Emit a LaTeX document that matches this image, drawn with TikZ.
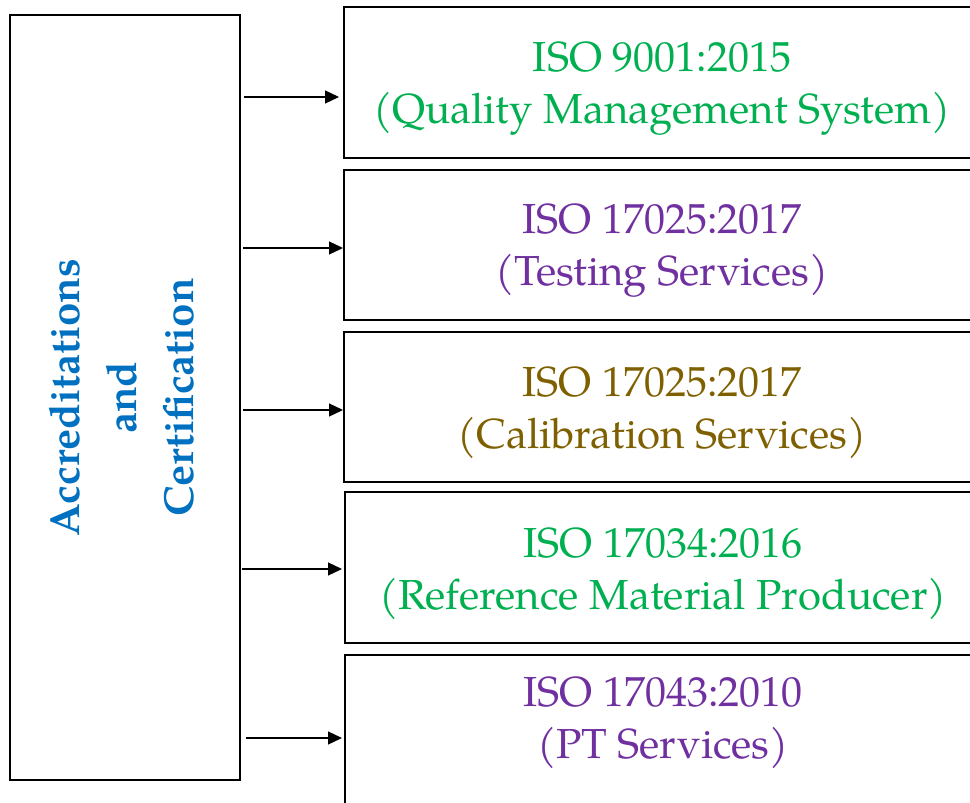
\documentclass[tikz,border=0pt]{standalone}
\usepackage{fontspec}
\setmainfont{texgyrepagella}[Extension=.otf, UprightFont=*-regular, BoldFont=*-bold, ItalicFont=*-italic, BoldItalicFont=*-bolditalic]
\usetikzlibrary{arrows.meta}
\definecolor{cgreen}{HTML}{00B050}
\definecolor{cpurple}{HTML}{7030A0}
\definecolor{cbrown}{HTML}{7F6000}
\definecolor{cblue}{HTML}{0070C0}
\begin{document}
\begin{tikzpicture}[x=1pt,y=-1pt,
  box/.style={draw=black, line width=2pt, minimum width=636pt, inner sep=0pt},
  txt/.style={align=center, inner sep=0pt, font=\fontsize{42}{52}\selectfont},
  arr/.style={line width=1.3pt, -{Triangle[length=14pt,width=13pt]}}]
\useasboundingbox (0,0) rectangle (970,803);
\begin{scope}
\clip (0,0) rectangle (970,803);
\node[draw=black, line width=2pt, minimum width=230pt, minimum height=765pt, inner sep=0pt] (L) at (125,397.5) {};
\node[rotate=90, text=cblue, align=center, font=\fontsize{42}{57}\bfseries\selectfont] (Lt) at ([xshift=-3pt]L.center) {Accreditations\\and\\Certification};
\node[box, minimum height=151pt] (B1) at (662,82.5) {};
\node[box, minimum height=150pt] (B2) at (662,245) {};
\node[box, minimum height=150pt] (B3) at (662,407) {};
\node[box, minimum height=151pt] (B4) at (663,567.5) {};
\node[box, minimum height=165pt] (B5) at (663,737.5) {};
\node[txt, text=cgreen] (T1) at ([yshift=-6pt]B1.center) {ISO 9001:2015\\(Quality Management System)};
\node[txt, text=cpurple] (T2) at ([yshift=-6pt]B2.center) {ISO 17025:2017\\(Testing Services)};
\node[txt, text=cbrown] (T3) at ([yshift=-6pt]B3.center) {ISO 17025:2017\\(Calibration Services)};
\node[txt, text=cgreen] (T4) at ([yshift=-6pt]B4.center) {ISO 17034:2016\\(Reference Material Producer)};
\node[txt, text=cpurple] (T5) at ([yshift=15pt]B5.center) {ISO 17043:2010\\(PT Services)};
\draw[arr] ([xshift=3pt,yshift=-14.5pt]L.east |- B1.west) -- ([xshift=-4pt,yshift=-14.5pt]B1.west);
\draw[arr] ([xshift=2pt,yshift=-3pt]L.east |- B2.west) -- ([yshift=-3pt]B2.west);
\draw[arr] ([xshift=2pt,yshift=-3pt]L.east |- B3.west) -- ([yshift=-3pt]B3.west);
\draw[arr] ([xshift=1pt,yshift=-1.5pt]L.east |- B4.west) -- ([xshift=-2pt,yshift=-1.5pt]B4.west);
\draw[arr] ([xshift=5pt,yshift=-0.5pt]L.east |- B5.west) -- ([xshift=-2pt,yshift=-0.5pt]B5.west);
\end{scope}
\end{tikzpicture}
\end{document}
